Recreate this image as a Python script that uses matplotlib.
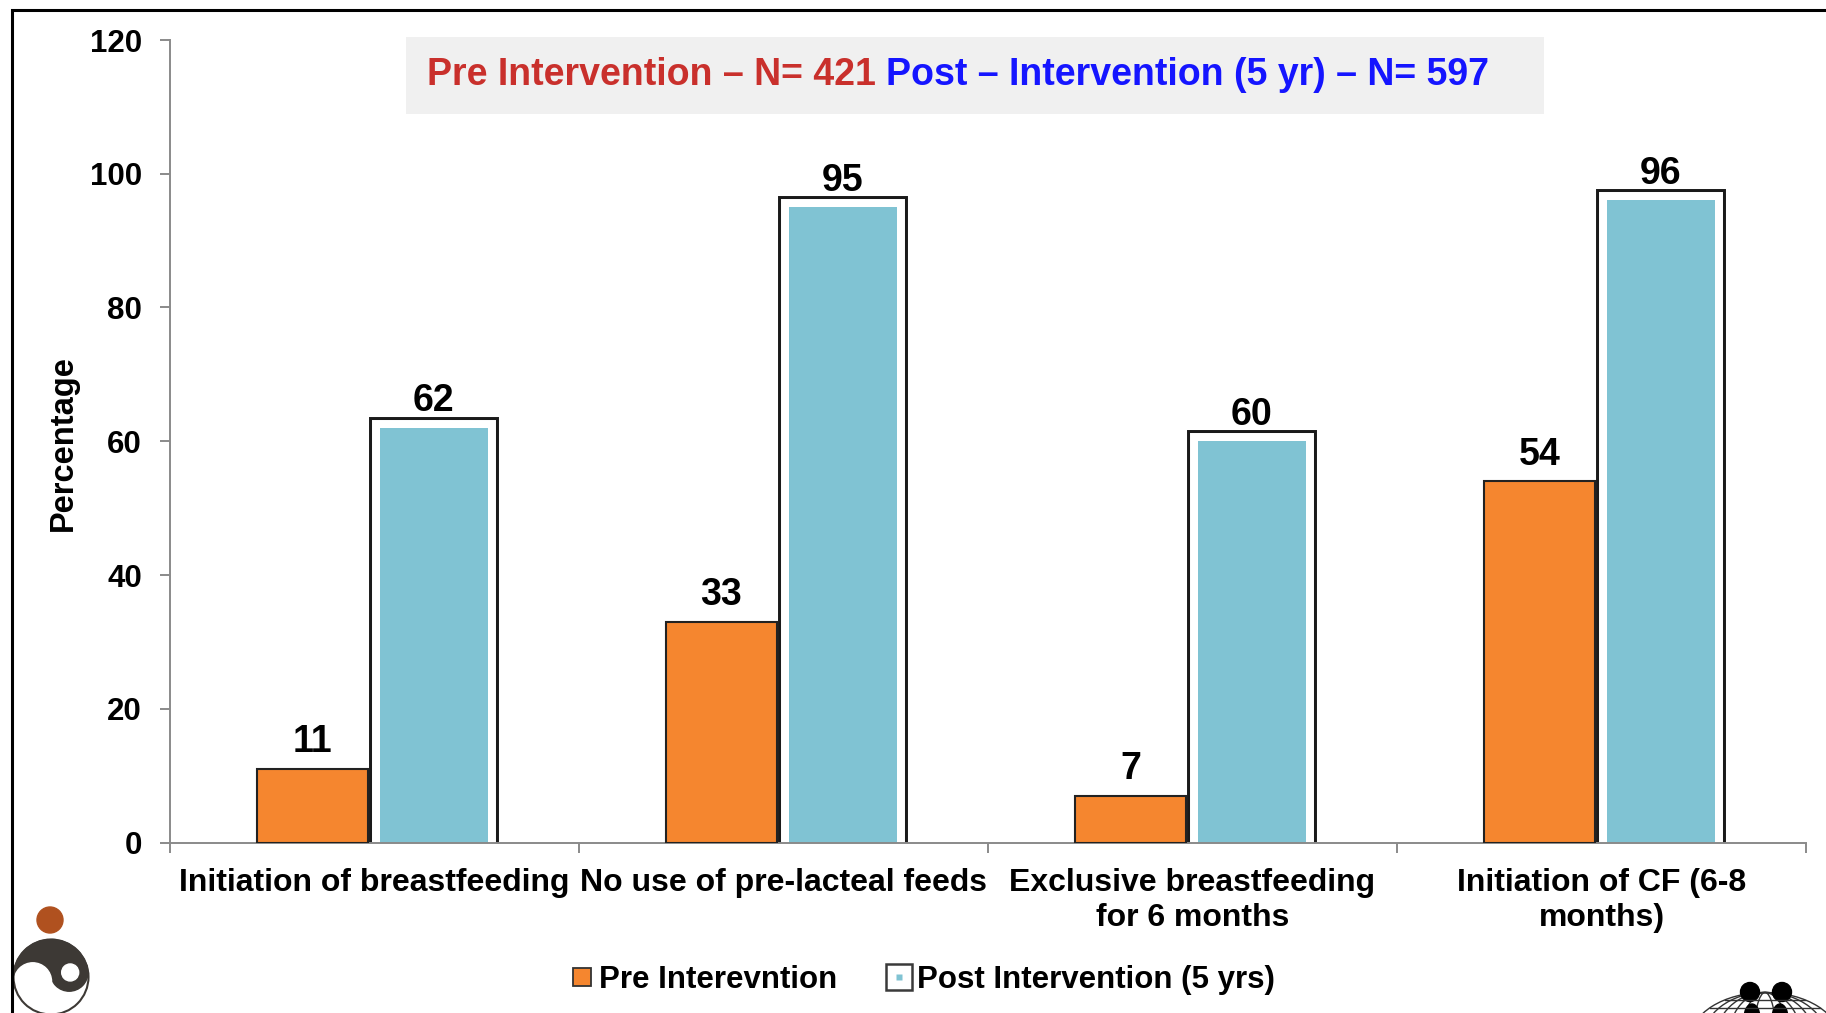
import matplotlib
matplotlib.use("Agg")
import matplotlib.pyplot as plt
import matplotlib.patheffects as pe
from matplotlib.patches import Rectangle, Circle, Wedge, Ellipse
from matplotlib.lines import Line2D
from matplotlib.legend_handler import HandlerTuple
from matplotlib import font_manager
import numpy as np

# ---- data ----
categories = ["Initiation of breastfeeding", "No use of pre-lacteal feeds",
              "Exclusive breastfeeding\nfor 6 months", "Initiation of CF (6-8\nmonths)"]
pre_values = [11, 33, 7, 54]
post_values = [62, 95, 60, 96]
y_ticks = [0, 20, 40, 60, 80, 100, 120]
series_names = ["Pre Interevntion", "Post Intervention (5 yrs)"]
title_pre = "Pre Intervention – N= 421"
title_post = "Post – Intervention (5 yr) – N= 597"

W, H, DPI = 1826, 1013, 100
plt.rcParams["font.family"] = ["Liberation Sans", "DejaVu Sans"]
plt.rcParams["font.weight"] = "bold"

ORANGE = "#f5862f"
TEAL = "#80c3d3"
GRAY = "#8a8a8a"
DARK = "#3d3935"

fig = plt.figure(figsize=(W / DPI, H / DPI), dpi=DPI)

# decoration layer in pixel coordinates
deco = fig.add_axes([0, 0, 1, 1], zorder=0)
deco.set_xlim(0, W)
deco.set_ylim(H, 0)
deco.axis("off")

ax = fig.add_axes([170 / W, 1 - 842.5 / H, (1806 - 170) / W, (842.5 - 40) / H], zorder=1)
ax.patch.set_alpha(0)

x = np.arange(len(categories))
post_bars = ax.bar(x + 0.145, post_values, width=0.265, color=TEAL, edgecolor="none", zorder=2)
for b in post_bars:
    b.set_path_effects([pe.Stroke(linewidth=15.8, foreground="#1a1a1a"),
                        pe.Stroke(linewidth=11.5, foreground="white"),
                        pe.Normal()])
pre_bars = ax.bar(x - 0.152, pre_values, width=0.272, color=ORANGE,
                  edgecolor="#222222", linewidth=1.5, zorder=3)

for bars, vals in ((pre_bars, pre_values), (post_bars, post_values)):
    for b, v in zip(bars, vals):
        ax.annotate(f"{v}", (b.get_x() + b.get_width() / 2, v), xytext=(0, 12),
                    textcoords="offset points", ha="center", va="baseline",
                    fontsize=27, fontweight="bold", zorder=5)

ax.set_xlim(-0.5, 3.5)
ax.set_ylim(0, 120)
ax.set_yticks(y_ticks)
ax.tick_params(axis="y", length=7.2, width=1.4, color=GRAY, pad=13, labelsize=22.5)
ax.set_xticks(x)
ax.set_xticklabels(categories, fontsize=23, fontweight="bold", linespacing=1.25)
ax.tick_params(axis="x", which="major", length=0, pad=18)
ax.set_xticks(np.arange(-0.5, 4, 1), minor=True)
ax.tick_params(axis="x", which="minor", length=7.2, width=1.4, color=GRAY)
for s in ("top", "right"):
    ax.spines[s].set_visible(False)
for s in ("left", "bottom"):
    ax.spines[s].set_color(GRAY)
    ax.spines[s].set_linewidth(1.4)

# y label
deco.text(63, 443, "Percentage", rotation=90, ha="center", va="center",
          fontsize=23.5, fontweight="bold")

# heading box
deco.add_patch(Rectangle((406, 37), 1138, 77, facecolor="#f0f0f0", edgecolor="none"))
red = deco.text(427, 85, title_pre, color="#c9302c", fontsize=27, fontweight="bold",
                ha="left", va="baseline")
deco.annotate(title_post, xy=(1, 0), xycoords=red, xytext=(10, 0),
              textcoords="offset pixels", ha="left", va="bottom",
              color="#1515ff", fontsize=27, fontweight="bold")

# frame lines
deco.plot([12, 12, W], [H, 10, 10], color="black", lw=2.2, solid_joinstyle="miter")

# left emblem
deco.add_patch(Circle((50, 920), 13, color="#b0511f"))
cx, cy, R = 51, 977, 37.5
phi = np.deg2rad(14)
deco.add_patch(Circle((cx, cy), R, facecolor="white", edgecolor="none"))
deco.add_patch(Wedge((cx, cy), R, 166, 346, color=DARK))
lx, ly = R / 2 * np.cos(phi), R / 2 * np.sin(phi)
deco.add_patch(Circle((cx + lx, cy - ly), R / 2, color=DARK))
deco.add_patch(Circle((cx - lx, cy + ly), R / 2, color="white"))
deco.add_patch(Circle((cx + lx + 1, cy - ly), 8.5, color="white"))
deco.add_patch(Circle((cx, cy), R, facecolor="none", edgecolor=DARK, lw=1.5))

# right emblem: globe with figures
gx, gy, gw, gh = 1765, 1040, 150, 95
for k in np.linspace(0.15, 1.0, 6):
    deco.add_patch(Ellipse((gx, gy), gw * k, gh, facecolor="none", edgecolor="#333333", lw=1))
for yy in np.arange(gy - 40, gy, 8):
    half = (gw / 2) * np.sqrt(max(0, 1 - ((yy - gy) / (gh / 2)) ** 2))
    deco.plot([gx - half, gx + half], [yy, yy], color="#333333", lw=1)
deco.add_patch(Circle((1750, 992), 9.5, color="black"))
deco.add_patch(Circle((1782, 992), 9.5, color="black"))
deco.add_patch(Ellipse((1752, 1018), 16, 28, color="black"))
deco.add_patch(Ellipse((1780, 1018), 16, 28, color="black"))

# legend
h_pre = Line2D([], [], ls="none", marker="s", markersize=12.5,
               markerfacecolor=ORANGE, markeredgecolor="#333333", markeredgewidth=1.3)
h_post = (Line2D([], [], ls="none", marker="s", markersize=19,
                 markerfacecolor="white", markeredgecolor="#3a3a3a", markeredgewidth=1.8),
          Line2D([], [], ls="none", marker="s", markersize=4.5,
                 markerfacecolor=TEAL, markeredgecolor="none"))
fig.legend([h_pre, h_post], series_names, loc="center",
           bbox_to_anchor=(921 / W, 1 - 980 / H), ncol=2, frameon=False,
           prop=font_manager.FontProperties(family="Liberation Sans", weight="bold", size=22.5),
           handlelength=0.9, handleheight=0.9, handletextpad=0.1, columnspacing=1.55,
           handler_map={tuple: HandlerTuple()})

fig.savefig("out.png", dpi=DPI)
